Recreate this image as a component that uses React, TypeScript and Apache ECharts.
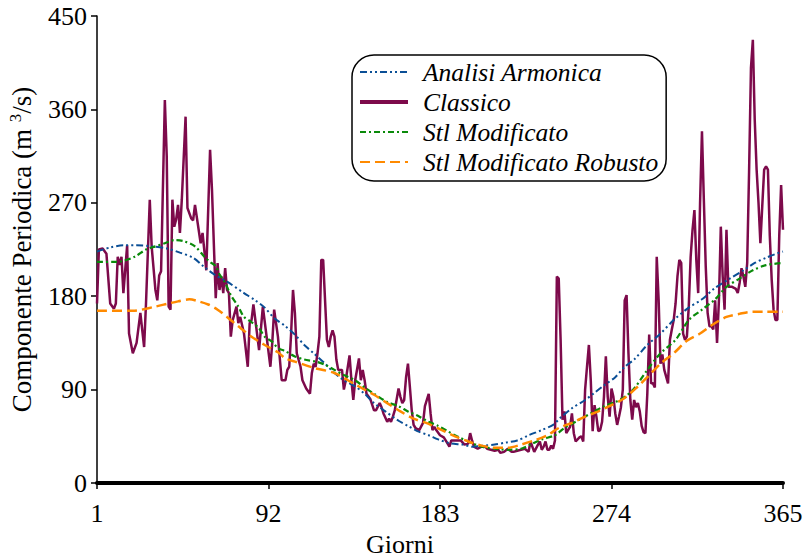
import React, { useEffect, useRef } from "react";
import * as echarts from "echarts";

const FONT = "'Liberation Serif', 'Times New Roman', Times, serif";

// Day of the year (1..365) and periodic component in m^3/s
const classico: [number, number][] = [
  [1, 173], [2, 225], [4, 226], [6, 221], [8, 173], [10, 168], [11, 173], [12, 218], [13, 210], [14, 218],
  [15, 183], [17, 229], [18, 144], [20, 125], [22, 135], [24, 164], [26, 131], [27, 173], [29, 273], [30, 228],
  [32, 186], [33, 176], [34, 200], [35, 204], [37, 369], [38, 315], [39, 170], [40, 167], [41, 273], [42, 247],
  [43, 254], [44, 268], [45, 241], [46, 273], [48, 353], [49, 265], [51, 255], [52, 253], [53, 268], [56, 231],
  [57, 241], [59, 205], [61, 321], [62, 283], [64, 178], [65, 212], [66, 186], [67, 199], [68, 183], [69, 207],
  [70, 186], [71, 183], [72, 141], [73, 157], [75, 170], [76, 154], [77, 160], [79, 144], [81, 112], [82, 154],
  [83, 157], [84, 172], [87, 128], [89, 170], [93, 112], [94, 135], [95, 167], [97, 141], [99, 99], [101, 99],
  [102, 109], [103, 112], [104, 144], [105, 186], [106, 164], [107, 125], [109, 112], [110, 99], [112, 91], [114, 86],
  [115, 106], [116, 115], [117, 112], [118, 125], [119, 141], [120, 215], [121, 215], [123, 138], [124, 131], [125, 141],
  [126, 147], [127, 141], [128, 119], [129, 109], [131, 109], [132, 90], [133, 99], [135, 123], [136, 99], [137, 80],
  [138, 99], [140, 120], [141, 99], [142, 109], [143, 99], [144, 86], [146, 81], [148, 70], [149, 70], [151, 77],
  [152, 73], [153, 67], [155, 59], [156, 62], [157, 59], [158, 64], [159, 70], [161, 91], [162, 83], [163, 77],
  [164, 80], [165, 102], [166, 115], [167, 93], [168, 70], [169, 56], [170, 53], [172, 51], [174, 58], [175, 74],
  [177, 86], [178, 67], [179, 51], [180, 54], [181, 51], [183, 46], [185, 44], [186, 41], [188, 35], [189, 41],
  [191, 41], [193, 41], [194, 41], [196, 37], [198, 38], [199, 48], [200, 41], [201, 35], [203, 33], [205, 35],
  [207, 35], [208, 33], [210, 32], [212, 31], [214, 32], [215, 29], [217, 30], [219, 33], [221, 30], [222, 30],
  [224, 31], [226, 32], [228, 33], [230, 30], [231, 40], [233, 30], [235, 37], [236, 40], [237, 32], [238, 35],
  [239, 40], [240, 32], [241, 32], [242, 36], [243, 33], [244, 41], [245, 199], [246, 197], [247, 138], [248, 61],
  [249, 69], [250, 48], [252, 54], [253, 67], [254, 48], [255, 40], [257, 44], [258, 45], [259, 40], [260, 90],
  [261, 112], [262, 133], [263, 99], [264, 50], [265, 75], [266, 64], [267, 50], [268, 51], [269, 59], [270, 83],
  [271, 122], [272, 83], [273, 64], [274, 91], [275, 83], [276, 67], [277, 56], [278, 64], [279, 73], [280, 90],
  [281, 176], [282, 181], [283, 125], [284, 80], [285, 61], [286, 80], [287, 73], [288, 77], [289, 69], [290, 55],
  [291, 49], [292, 48], [293, 86], [294, 143], [295, 96], [296, 96], [297, 92], [298, 218], [299, 177], [300, 115],
  [301, 124], [302, 109], [304, 96], [305, 138], [306, 148], [307, 157], [308, 173], [309, 199], [310, 215], [311, 212],
  [312, 144], [313, 138], [314, 141], [315, 170], [316, 218], [317, 244], [318, 263], [319, 215], [320, 183], [321, 270],
  [322, 339], [323, 273], [324, 209], [325, 164], [326, 151], [327, 151], [328, 148], [329, 176], [330, 135], [331, 176],
  [332, 247], [333, 199], [334, 167], [335, 244], [336, 189], [337, 189], [338, 189], [340, 187], [341, 183], [342, 193],
  [343, 207], [344, 199], [345, 189], [346, 212], [347, 300], [348, 400], [349, 427], [350, 350], [351, 302], [352, 270],
  [353, 231], [354, 267], [355, 302], [356, 305], [357, 302], [358, 238], [359, 196], [360, 167], [361, 157], [362, 157],
  [363, 238], [364, 287], [365, 244],
];

const armonica: [number, number][] = [
  [1, 223], [8, 227], [15, 229], [22, 229], [30, 228], [38, 226], [45, 222], [52, 217], [58, 208], [64, 200],
  [70, 194], [79, 183], [85, 176], [90, 169], [95, 159], [101, 151], [106, 143], [111, 133], [116, 125], [122, 115],
  [127, 106], [132, 99], [138, 93], [143, 86], [148, 77], [154, 69], [161, 60], [166, 55], [171, 50], [177, 46],
  [182, 42], [189, 38], [195, 37], [200, 35], [206, 36], [212, 37], [218, 39], [224, 41], [230, 46], [237, 51],
  [243, 56], [247, 63], [253, 72], [260, 80], [265, 87], [270, 94], [276, 102], [281, 112], [286, 119], [293, 133],
  [300, 144], [307, 157], [315, 169], [322, 177], [329, 188], [336, 196], [345, 206], [350, 212], [356, 217], [363, 222],
  [365, 223],
];

const stlModificato: [number, number][] = [
  [1, 213], [10, 213], [15, 214], [21, 218], [27, 225], [32, 228], [37, 231], [42, 234], [47, 233], [53, 228],
  [58, 218], [61, 213], [64, 209], [66, 201], [69, 193], [72, 181], [76, 170], [79, 160], [83, 155], [87, 149],
  [90, 141], [94, 136], [97, 130], [101, 127], [106, 122], [111, 119], [117, 117], [122, 114], [127, 109], [132, 104],
  [138, 99], [143, 92], [148, 86], [155, 78], [161, 74], [166, 69], [171, 65], [177, 59], [182, 55], [187, 50],
  [192, 45], [198, 40], [205, 35], [212, 33], [219, 32], [226, 33], [231, 37], [237, 42], [244, 46], [249, 53],
  [255, 59], [260, 64], [265, 69], [270, 74], [276, 78], [281, 83], [286, 91], [293, 109], [300, 125], [308, 138],
  [315, 157], [322, 167], [329, 177], [335, 189], [342, 197], [349, 205], [356, 210], [365, 212],
];

const stlRobusto: [number, number][] = [
  [1, 166], [20, 166], [32, 170], [39, 173], [44, 175], [50, 177], [55, 175], [60, 172], [65, 167], [70, 160],
  [76, 151], [83, 141], [90, 133], [97, 126], [101, 120], [106, 117], [116, 111], [127, 106], [137, 96], [143, 90],
  [148, 85], [155, 77], [162, 69], [169, 62], [177, 57], [184, 51], [191, 45], [198, 40], [205, 36], [212, 34],
  [219, 34], [226, 37], [233, 41], [240, 46], [246, 53], [253, 58], [260, 64], [267, 69], [274, 75], [281, 82],
  [288, 93], [293, 102], [300, 115], [307, 125], [314, 137], [321, 144], [328, 153], [335, 160], [342, 163], [349, 165],
  [356, 165], [365, 165],
];

const seriesNames = ["Analisi Armonica", "Classico", "Stl Modificato", "Stl Modificato Robusto"];
const xTickLabels = [1, 92, 183, 274, 365];
const yTicks = [0, 90, 180, 270, 360, 450];

// the axis runs on day offsets (day - 1) so that ticks fall on 1, 92, 183, 274, 365
const toXY = (pts: [number, number][]) => pts.map(([d, v]) => [d - 1, v]);

export default function App() {
  const ref = useRef<HTMLDivElement>(null);

  useEffect(() => {
    if (!ref.current) return;
    const chart = echarts.init(ref.current, undefined, { renderer: "svg" });
    const dayStep = xTickLabels[1] - xTickLabels[0];
    const yStep = yTicks[1] - yTicks[0];

    chart.setOption({
      animation: false,
      backgroundColor: "#ffffff",
      grid: { left: 97, right: 22, top: 16, bottom: 74, containLabel: false, outerBoundsMode: "none" },
      legend: {
        orient: "vertical",
        left: 352,
        top: 55,
        padding: [4, 8, 6, 6],
        itemGap: 4,
        itemWidth: 48,
        itemHeight: 14,
        backgroundColor: "#ffffff",
        borderColor: "#000000",
        borderWidth: 1.5,
        borderRadius: 22,
        itemStyle: { opacity: 0 },
        textStyle: {
          fontFamily: FONT,
          fontStyle: "italic",
          fontSize: 25.5,
          color: "#000000",
          padding: [0, 0, 0, 10],
        },
        data: [
          { name: seriesNames[0] },
          { name: seriesNames[1], lineStyle: { width: 4 } },
          { name: seriesNames[2] },
          { name: seriesNames[3] },
        ],
      },
      xAxis: {
        type: "value",
        min: xTickLabels[0] - 1,
        max: xTickLabels[xTickLabels.length - 1] - 1,
        interval: dayStep,
        name: "Giorni",
        nameLocation: "middle",
        nameGap: 48,
        nameTextStyle: { fontFamily: FONT, fontSize: 26, color: "#000000", padding: [0, 80, 0, 0] },
        axisLine: { onZero: false, lineStyle: { color: "#000000", width: 4 } },
        axisTick: { length: 6, lineStyle: { color: "#000000", width: 1.5 } },
        axisLabel: {
          formatter: (v: number) => String(v + 1),
          fontFamily: FONT,
          fontSize: 26,
          color: "#000000",
          margin: 17,
        },
        splitLine: { show: false },
      },
      yAxis: {
        type: "value",
        min: yTicks[0],
        max: yTicks[yTicks.length - 1],
        interval: yStep,
        name: "Componente Periodica (m {sup|3}/s)",
        nameLocation: "middle",
        nameGap: 56,
        nameRotate: 90,
        nameTextStyle: {
          fontFamily: FONT,
          fontSize: 27,
          color: "#000000",
          lineHeight: 30,
          rich: {
            sup: { fontFamily: FONT, fontSize: 17, lineHeight: 17, verticalAlign: "top", color: "#000000" },
          },
        },
        axisLine: { show: true, lineStyle: { color: "#000000", width: 1.5 } },
        axisTick: { show: true, length: 6, lineStyle: { color: "#000000", width: 1.5 } },
        axisLabel: { fontFamily: FONT, fontSize: 26, color: "#000000", margin: 10 },
        splitLine: { show: false },
      },
      series: [
        {
          name: seriesNames[0],
          type: "line",
          symbol: "none",
          smooth: 0.3,
          data: toXY(armonica),
          lineStyle: { color: "#0b4f96", width: 2, type: [7, 3, 2, 3, 2, 3] },
          itemStyle: { color: "#0b4f96" },
          z: 3,
        },
        {
          name: seriesNames[1],
          type: "line",
          symbol: "none",
          data: toXY(classico),
          lineStyle: { color: "#7d0a4b", width: 2.5 },
          itemStyle: { color: "#7d0a4b" },
          z: 2,
        },
        {
          name: seriesNames[2],
          type: "line",
          symbol: "none",
          smooth: 0.3,
          data: toXY(stlModificato),
          lineStyle: { color: "#0a8a0a", width: 2.2, type: [6, 3, 2, 3] },
          itemStyle: { color: "#0a8a0a" },
          z: 4,
        },
        {
          name: seriesNames[3],
          type: "line",
          symbol: "none",
          smooth: 0.3,
          data: toXY(stlRobusto),
          lineStyle: { color: "#ff8a00", width: 2.5, type: [10, 5] },
          itemStyle: { color: "#ff8a00" },
          z: 5,
        },
      ],
    });

    return () => chart.dispose();
  }, []);

  return (
    <div
      ref={ref}
      style={{ position: "fixed", left: 0, top: 0, width: 805, height: 557, background: "#fff" }}
    />
  );
}
